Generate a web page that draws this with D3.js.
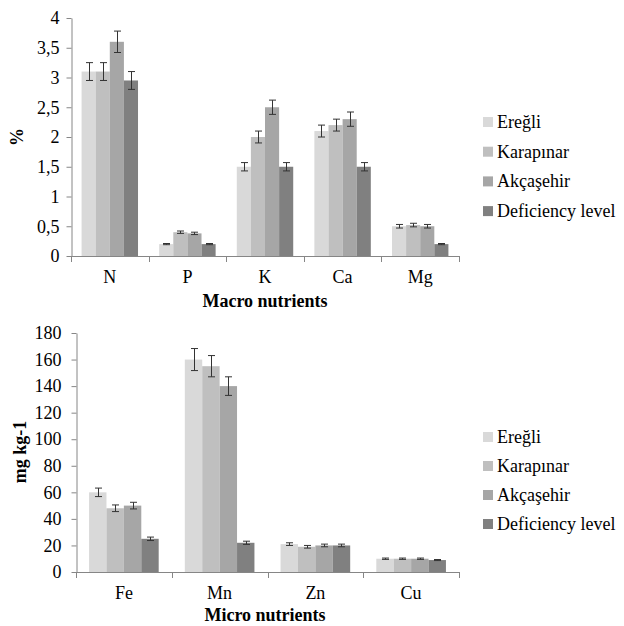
<!DOCTYPE html>
<html>
<head>
<meta charset="utf-8">
<script src="https://cdn.jsdelivr.net/npm/d3@7"></script>
<style>
  body { margin: 0; background: #fff; }
  svg text { font-family: "Liberation Serif", "Times New Roman", serif !important; fill: #000; }
</style>
</head>
<body>
<div id="chart"></div>
<script>

// series names + colours
var series = ["Ereğli", "Karapınar", "Akçaşehir", "Deficiency level"];
var colors = ["#d9d9d9", "#bfbfbf", "#a6a6a6", "#808080"];

// macro nutrients (%)
var macroCats = ["N", "P", "K", "Ca", "Mg"];
var macroVals = [
  [3.1, 0.2, 1.5, 2.1, 0.5],
  [3.1, 0.4, 2.0, 2.2, 0.52],
  [3.6, 0.38, 2.5, 2.3, 0.5],
  [2.95, 0.2, 1.5, 1.5, 0.2]
];
var macroErr = [
  [0.15, 0.01, 0.07, 0.1, 0.03],
  [0.15, 0.02, 0.1, 0.1, 0.03],
  [0.18, 0.02, 0.12, 0.12, 0.03],
  [0.15, 0.01, 0.07, 0.07, 0.01]
];
var macroTicks = [0, 0.5, 1, 1.5, 2, 2.5, 3, 3.5, 4];

// micro nutrients (mg kg-1)
var microCats = ["Fe", "Mn", "Zn", "Cu"];
var microVals = [
  [60, 160, 21, 10],
  [48, 155, 19, 10],
  [50, 140, 20, 10],
  [25, 22, 20, 9]
];
var microErr = [
  [3.2, 8.3, 1, 0.5],
  [2.5, 8, 1, 0.5],
  [2.5, 7, 1, 0.5],
  [1.3, 1.2, 1, 0.4]
];
var microTicks = [0, 20, 40, 60, 80, 100, 120, 140, 160, 180];

var FONT = '"Liberation Serif", "Times New Roman", serif';

var svg = d3.select("#chart").append("svg")
  .attr("width", 624)
  .attr("height", 626)
  .style("font-family", FONT);

function drawChart(o) {
  var g = svg.append("g");

  var x0 = d3.scaleBand().domain(o.cats).range([o.left, o.right]);
  var bw = x0.bandwidth() / 5.5;   // excel gap width 150%
  var x1 = d3.scaleBand().domain(d3.range(series.length))
    .range([bw * 0.75, x0.bandwidth() - bw * 0.75]);
  var y = d3.scaleLinear().domain([0, o.max]).range([o.bottom, o.top]);

  // bars
  series.forEach(function(s, i) {
    g.selectAll(".bar" + i)
      .data(o.cats)
      .enter().append("rect")
      .attr("x", function(c) { return x0(c) + x1(i); })
      .attr("y", function(c, j) { return y(o.vals[i][j]); })
      .attr("width", x1.bandwidth())
      .attr("height", function(c, j) { return o.bottom - y(o.vals[i][j]); })
      .attr("fill", colors[i]);

    // error bars
    var eb = g.selectAll(".err" + i)
      .data(o.cats)
      .enter().append("g")
      .attr("stroke", "#333")
      .attr("stroke-width", 1);
    eb.each(function(c, j) {
      var cx = Math.round(x0(c) + x1(i) + x1.bandwidth() / 2) + 0.5;
      var v = o.vals[i][j], e = o.errs[i][j];
      var el = d3.select(this);
      el.append("line").attr("x1", cx).attr("x2", cx)
        .attr("y1", y(v + e)).attr("y2", y(v - e));
      el.append("line").attr("x1", cx - 3.5).attr("x2", cx + 3.5)
        .attr("y1", y(v + e)).attr("y2", y(v + e));
      el.append("line").attr("x1", cx - 3.5).attr("x2", cx + 3.5)
        .attr("y1", y(v - e)).attr("y2", y(v - e));
    });
  });

  // y axis
  var ya = g.append("g")
    .attr("transform", "translate(" + (o.left + 0.5) + ",0)")
    .call(d3.axisLeft(y).tickValues(o.ticks).tickSize(5).tickSizeOuter(0)
      .tickPadding(o.pad)
      .tickFormat(function(d) { return String(d).replace(".", ","); }));
  ya.attr("font-family", null).attr("font-size", null);
  ya.select(".domain").attr("stroke", "#868686");
  ya.selectAll(".tick line").attr("stroke", "#868686");
  ya.selectAll("text").style("font-family", FONT).style("font-size", "18px");

  // x axis line + category tick marks
  g.append("line")
    .attr("x1", o.left).attr("x2", o.right)
    .attr("y1", o.bottom + 0.5).attr("y2", o.bottom + 0.5)
    .attr("stroke", "#868686");
  var bounds = o.cats.map(function(c) { return x0(c); }).concat([o.right]);
  g.selectAll(".xt").data(bounds).enter().append("line")
    .attr("x1", function(d) { return Math.round(d) + 0.5; })
    .attr("x2", function(d) { return Math.round(d) + 0.5; })
    .attr("y1", o.bottom).attr("y2", o.bottom + 6)
    .attr("stroke", "#868686");

  g.selectAll(".cl").data(o.cats).enter().append("text")
    .attr("x", function(c) { return x0(c) + x0.bandwidth() / 2; })
    .attr("y", o.catY)
    .attr("text-anchor", "middle")
    .style("font-size", "18px")
    .text(function(c) { return c; });

  // titles
  g.append("text")
    .attr("x", 265).attr("y", o.titleY)
    .attr("text-anchor", "middle")
    .style("font-size", "18px").style("font-weight", "bold")
    .text(o.xTitle);
  g.append("text")
    .attr("transform", "translate(" + o.yTitleX + "," + o.yTitleY + ") rotate(-90)")
    .attr("text-anchor", "middle")
    .style("font-size", "18px").style("font-weight", "bold")
    .text(o.yTitle);

  // legend
  var lg = g.selectAll(".lg").data(series).enter().append("g")
    .attr("transform", function(d, i) { return "translate(483," + (o.legY + i * o.legStep) + ")"; });
  lg.append("rect").attr("x", 0).attr("y", -5).attr("width", 10).attr("height", 10)
    .attr("fill", function(d, i) { return colors[i]; });
  lg.append("text").attr("x", 14).attr("y", 6)
    .style("font-size", "18px")
    .text(function(d) { return d; });
}

drawChart({
  cats: macroCats, vals: macroVals, errs: macroErr, ticks: macroTicks, max: 4,
  left: 71, right: 459, top: 18, bottom: 256, pad: 7,
  catY: 283, titleY: 307, xTitle: "Macro nutrients",
  yTitle: "%", yTitleX: 23, yTitleY: 137,
  legY: 122, legStep: 29.7
});

drawChart({
  cats: microCats, vals: microVals, errs: microErr, ticks: microTicks, max: 180,
  left: 76, right: 459, top: 333, bottom: 572, pad: 10,
  catY: 599, titleY: 621, xTitle: "Micro nutrients",
  yTitle: "mg kg-1", yTitleX: 26, yTitleY: 452,
  legY: 437, legStep: 29
});

</script>
</body>
</html>
